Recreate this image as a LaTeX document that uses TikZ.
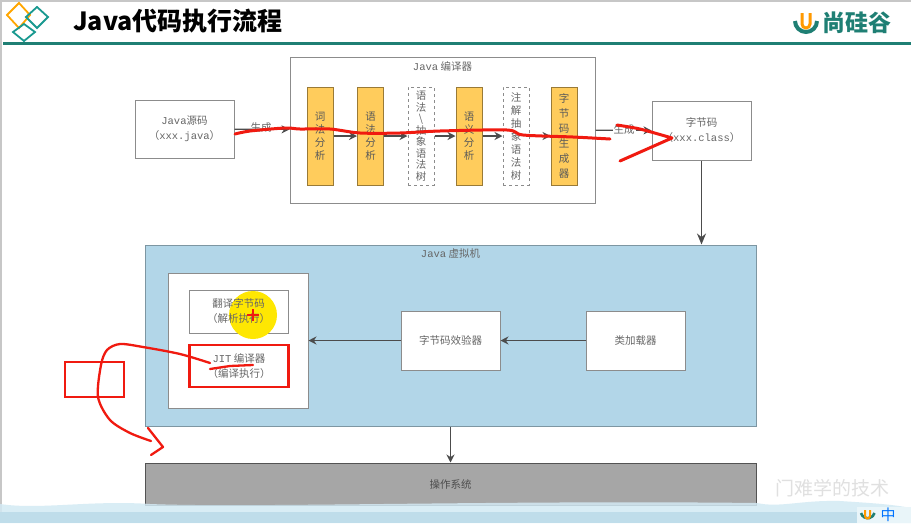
\documentclass[tikz,border=0pt]{standalone}
\usepackage{fontspec}
\setmainfont{Noto Sans CJK SC}
\newfontfamily\latfont{Liberation Mono}
\usetikzlibrary{arrows.meta}
\definecolor{barteal}{HTML}{1F7F74}
\definecolor{stepyellow}{HTML}{FFCC5C}
\definecolor{jvmblue}{HTML}{B2D6E8}
\definecolor{osgray}{HTML}{A6A6A6}
\definecolor{inkred}{HTML}{F01A10}
\definecolor{txtgray}{HTML}{666666}
\definecolor{footlight}{HTML}{D3EAF4}
\definecolor{footband}{HTML}{BFDDEA}

\tikzset{
	plainbox/.style={draw=black!45, fill=white, line width=1pt, inner sep=0pt, align=center, text=txtgray, font=\fontsize{10.5}{15}\selectfont},
	stepbox/.style={plainbox, fill=stepyellow, draw=black!40!stepyellow, minimum width=26pt, minimum height=98pt, font=\fontsize{10.5}{13}\selectfont, text=black!65},
	dashbox/.style={plainbox, dashed, minimum width=26pt, minimum height=98pt, font=\fontsize{10.5}{11.5}\selectfont},
	flow/.style={draw=black!70, line width=1.2pt, -{Stealth[length=8pt,width=8pt]}},
	bigflow/.style={flow, -{Stealth[length=11pt,width=9pt]}},
	inkline/.style={draw=inkred, line width=3pt, line cap=round, line join=round},
	hookline/.style={inkline, line width=2.3pt},
	tagtext/.style={inner sep=1pt, text=txtgray, font=\fontsize{10.5}{12}\selectfont}
}

\begin{document}
\begin{tikzpicture}[x=1pt,y=1pt]
	\useasboundingbox (0,0) rectangle (911,-523);
	\fill [white] (0,0) rectangle (911,-523);
	% frame and header
	\fill [black!22] (0,0) rectangle (911,-2);
	\fill [black!22] (0,0) rectangle (2,-523);
	\fill [barteal] (3,-42) rectangle (911,-45);
	\draw [draw=orange!70!yellow, line width=1.8pt] (19,-3) -- (30,-15) -- (19,-28) -- (7,-15) -- cycle;
	\draw [draw=barteal!80!cyan, line width=1.8pt] (37,-7) -- (48,-17) -- (37,-28) -- (26,-17) -- cycle;
	\draw [draw=barteal!80!cyan, line width=1.8pt] (24,-24) -- (35,-32) -- (24,-41) -- (13,-32) -- cycle;
	\node (title) [anchor=west, inner sep=0pt, font=\fontsize{25}{25}\bfseries\selectfont] at (73,-21) {Java代码执行流程};
	\draw [barteal, line width=4pt] (795,-21) arc (180:360:11);
	\draw [orange!80!yellow, line width=3pt] (802,-13) -- (802,-24) arc (180:360:4) -- (810,-13);
	\node (brand) [anchor=west, inner sep=0pt, text=barteal, font=\fontsize{23}{23}\bfseries\selectfont] at (822,-23) {尚硅谷};

	% compiler row
	\node (source) [plainbox, minimum width=99pt, minimum height=58pt] at (184.5,-129) {{\latfont Java}源码\\（{\latfont xxx.java}）};
	\node (compiler) [plainbox, minimum width=305pt, minimum height=146pt] at (442.5,-130) {};
	\node (compilertag) [tagtext] at (442.5,-66) {{\latfont Java} 编译器};
	\node (lexer) [stepbox] at (320,-136) {词\\法\\分\\析};
	\node (parser) [stepbox] at (370.5,-136) {语\\法\\分\\析};
	\node (syntree) [dashbox] at (421,-136) {语\\法\\\textbackslash\\抽\\象\\语\\法\\树};
	\node (semantic) [stepbox] at (469,-136) {语\\义\\分\\析};
	\node (annotree) [dashbox, font=\fontsize{10.5}{13}\selectfont] at (516,-136) {注\\解\\抽\\象\\语\\法\\树};
	\node (generator) [stepbox, font=\fontsize{10.5}{15}\selectfont] at (564,-136) {字\\节\\码\\生\\成\\器};
	\node (bytecode) [plainbox, minimum width=99pt, minimum height=59pt] at (701.5,-130.5) {字节码\\（{\latfont xxx.class}）};

	% virtual machine
	\node (jvm) [plainbox, fill=jvmblue, draw=black!30!jvmblue, minimum width=611pt, minimum height=181pt] at (450.5,-335.5) {};
	\node (jvmtag) [tagtext] at (450.5,-254) {{\latfont Java} 虚拟机};
	\node (engine) [plainbox, minimum width=140pt, minimum height=135pt] at (238,-340.5) {};
	\node (interp) [plainbox, minimum width=99pt, minimum height=43pt] at (238.5,-311.5) {};
	\fill [yellow!90!orange] (253,-315) circle (24);
	\node (interptext) [inner sep=0pt, align=center, text=txtgray, font=\fontsize{10.5}{15}\selectfont] at (238.5,-311.5) {翻译字节码\\（解析执行）};
	\node (jit) [plainbox, draw=inkred, line width=2.4pt, minimum width=99pt, minimum height=42pt] at (239,-366) {{\latfont JIT} 编译器\\（编译执行）};
	\node (verifier) [plainbox, minimum width=99pt, minimum height=59pt] at (450.5,-340.5) {字节码效验器};
	\node (loader) [plainbox, minimum width=99pt, minimum height=59pt] at (635.5,-340.5) {类加载器};
	\node (os) [plainbox, fill=osgray, draw=black!50!osgray, text=black!70, minimum width=611pt, minimum height=42pt] at (450.5,-484) {操作系统};

	\draw [flow] (source) -- (compiler);
	\node (maketag) [tagtext] at (261,-128) {生成};
	\draw [flow] (lexer) -- (parser);
	\draw [flow] (parser) -- (syntree);
	\draw [flow] (syntree) -- (semantic);
	\draw [flow] (semantic) -- (annotree);
	\draw [flow] (annotree) -- (generator);
	\draw [flow] (compiler) -- (bytecode);
	\node (gentag) [tagtext, fill=white] at (624,-130) {生成};
	\draw [bigflow] (bytecode) -- (bytecode |- jvm.north);
	\draw [flow] (loader) -- (verifier);
	\draw [flow] (verifier) -- (engine);
	\draw [flow] (jvm) -- (os);

	% pen marks on top
	\draw [inkred, line width=1.8pt] (247,-315) -- (259,-315) (253,-309) -- (253,-321);
	\draw [inkline] plot [smooth, tension=0.5] coordinates {(235,-134) (250,-131) (285,-128) (300,-129) (330,-129) (360,-133) (400,-133) (440,-131) (507,-130) (523,-135) (573,-137) (610,-139)};
	\draw [inkline] plot [smooth, tension=0.4] coordinates {(617,-125) (640,-129) (672,-138)} -- (620,-161);
	\node (mark) [draw=inkred, line width=2.4pt, minimum width=59pt, minimum height=35pt, inner sep=0pt] at (94.5,-379.5) {};
	\draw [hookline] plot [smooth, tension=0.5] coordinates {(210,-363) (180,-354) (143,-347) (120,-344) (107,-350) (101,-365) (98,-397) (110,-420) (130,-433) (151,-441)};
	\draw [hookline] (148,-428) -- (163,-447) -- (151,-455);
	\draw [hookline] (210,-369) -- (230,-366) -- (253,-365);

	% footer
	\fill [footlight, opacity=0.85] (0,-523) -- (0,-504) .. controls (40,-510) and (90,-500) .. (150,-504) .. controls (250,-508) and (500,-500) .. (757,-503) .. controls (780,-508) and (800,-500) .. (840,-501) .. controls (870,-503) and (890,-504) .. (911,-508) -- (911,-523) -- cycle;
	\fill [footband] (0,-512) rectangle (911,-523);
	\node (slogan) [inner sep=0pt, text=black!12, font=\fontsize{19}{19}\selectfont] at (832,-488) {门难学的技术};
	\fill [footlight!50] (857,-507) rectangle (911,-523);
	\draw [barteal, line width=2.6pt] (861,-513) arc (195:345:7);
	\draw [orange!80!yellow, line width=2pt] (865,-510) -- (865,-516) arc (180:360:2.5) -- (870,-510);
	\node (imetag) [inner sep=0pt, text=blue!55!cyan, font=\fontsize{15}{15}\selectfont] at (888,-515) {中};
\end{tikzpicture}
\end{document}
